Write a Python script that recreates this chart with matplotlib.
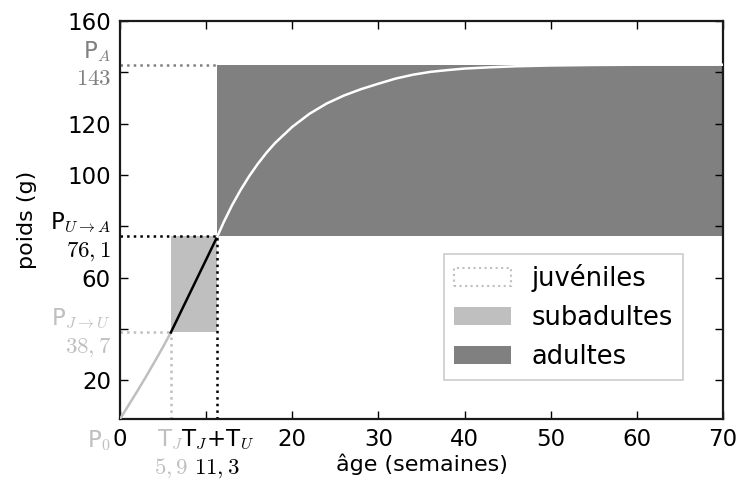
import matplotlib
matplotlib.use("Agg")
import matplotlib.pyplot as plt
import matplotlib.patches as mpatches

plt.rcParams["mathtext.fontset"] = "cm"
plt.rcParams["font.family"] = "DejaVu Sans"

# key values of the growth model
P0 = 5.0
P_JU = 38.7
P_UA = 76.1
P_A = 143.0
T_J = 5.9
T_JU = 11.3

# curve
juv_x = [0, 1, 2, 3, 4, 5, 5.9]
juv_y = [5.0, 10.4, 15.8, 21.4, 27.2, 33.1, 38.7]

sub_x = [5.9, 11.3]
sub_y = [38.7, 76.1]

adu_x = [11.3, 12, 13, 14, 15, 16, 17, 18, 20, 22, 24, 26, 28, 30, 32, 34,
         36, 38, 40, 43, 46, 50, 55, 60, 70]
adu_y = [76.1, 81.4, 88.2, 94.2, 99.6, 104.4, 108.7, 112.5, 118.8, 123.9,
         127.9, 131.0, 133.5, 135.6, 137.6, 139.1, 140.2, 140.9, 141.5, 142.0,
         142.4, 142.7, 142.9, 143.0, 143.0]

X_MAX = 70
Y_MAX = 160

light = "0.75"
dark = "0.5"

fig = plt.figure(figsize=(7.39, 4.79), dpi=100)
ax = fig.add_axes([0.1624, 0.1253, 0.8159, 0.8307])

# zones
ax.add_patch(mpatches.Rectangle((T_J, P_JU), T_JU - T_J, P_UA - P_JU,
                                facecolor=light, edgecolor="none", zorder=1))
ax.add_patch(mpatches.Rectangle((T_JU, P_UA), X_MAX - T_JU, P_A - P_UA,
                                facecolor=dark, edgecolor="none", zorder=1))

# guide lines
ax.plot([0, T_J], [P_JU, P_JU], ":", color=light, lw=1.8, zorder=2)
ax.plot([T_J, T_J], [P0, P_JU], ":", color=light, lw=1.8, zorder=2)
ax.plot([0, T_JU], [P_UA, P_UA], ":", color="black", lw=1.8, zorder=2)
ax.plot([T_JU, T_JU], [P0, P_UA], ":", color="black", lw=1.8, zorder=2)
ax.plot([0, T_JU], [P_A, P_A], ":", color=dark, lw=1.8, zorder=2)

# growth curve
ax.plot(juv_x, juv_y, color=light, lw=1.8, zorder=3)
ax.plot(sub_x, sub_y, color="black", lw=1.8, zorder=3)
ax.plot(adu_x, adu_y, color="white", lw=1.8, zorder=3)

ax.set_xlim(0, X_MAX)
ax.set_ylim(P0, Y_MAX)

fs = 16.5
ax.set_xticks([0, 10, 20, 30, 40, 50, 60, 70])
ax.set_xticklabels(["0", "", "20", "30", "40", "50", "60", "70"])
ax.set_yticks([20, 40, 60, 80, 100, 120, 140, 160])
ax.set_yticklabels(["20", "", "60", "", "100", "120", "", "160"])
ax.tick_params(direction="in", top=True, right=True, length=6, width=1,
               labelsize=fs, pad=6.5)
for sp in ax.spines.values():
    sp.set_linewidth(1.6)
    sp.set_color("0.1")

# custom labels along the axes
ytr = ax.get_yaxis_transform()
xtr = ax.get_xaxis_transform()
ax.text(-0.015, P_A, "P$_A$\n$143$", transform=ytr, ha="right", va="center",
        multialignment="right", fontsize=fs, color=dark)
ax.text(-0.015, P_UA, "P$_{U\\rightarrow A}$\n$76,1$", transform=ytr,
        ha="right", va="center", multialignment="right", fontsize=fs,
        color="black")
ax.text(-0.015, P_JU, "P$_{J\\rightarrow U}$\n$38,7$", transform=ytr,
        ha="right", va="center", multialignment="right", fontsize=fs,
        color=light)
ax.text(-0.015, -0.022, "P$_0$", transform=ax.transAxes, ha="right",
        va="top", fontsize=fs, color=light)
ax.text(T_J, -0.022, "T$_J$\n$5,9$", transform=xtr, ha="center", va="top",
        multialignment="center", fontsize=fs, color=light)
ax.text(T_JU, -0.022, "T$_J$+T$_U$\n$11,3$", transform=xtr, ha="center",
        va="top", multialignment="center", fontsize=fs, color="black")

ax.set_xlabel("âge (semaines)", fontsize=16, labelpad=2)
ax.set_ylabel("poids (g)", fontsize=16, labelpad=22)

handles = [
    mpatches.Patch(facecolor="white", edgecolor=light, linestyle=":", lw=1.5,
                   label="juvéniles"),
    mpatches.Patch(facecolor=light, edgecolor="none", label="subadultes"),
    mpatches.Patch(facecolor=dark, edgecolor="none", label="adultes"),
]
leg = ax.legend(handles=handles, loc="lower right",
                bbox_to_anchor=(0.934, 0.098), fontsize=18.5, fancybox=False,
                handlelength=2.2, borderaxespad=0, framealpha=1)
leg.get_frame().set_edgecolor("0.8")
leg.get_frame().set_linewidth(1.2)

fig.savefig("out.png", dpi=100)
